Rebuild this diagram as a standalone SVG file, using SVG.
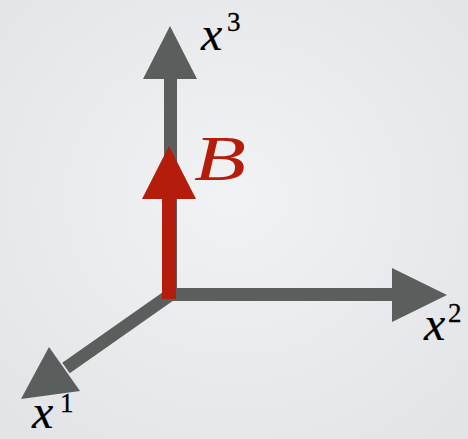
<svg xmlns="http://www.w3.org/2000/svg" width="468" height="439" viewBox="0 0 468 439">
<defs>
<radialGradient id="bg" cx="50%" cy="45%" r="75%">
<stop offset="0" stop-color="#f1f2f4"/>
<stop offset="1" stop-color="#e1e3e6"/>
</radialGradient>
<style>
.ax{fill:#5a5e5d}
.bv{fill:#b41c0b}
.lbl{font-family:"Liberation Serif","Times New Roman",serif;font-style:italic;fill:#000;stroke:#000;stroke-width:0.2}
.sup{font-family:"Liberation Serif","Times New Roman",serif;fill:#000;stroke:#000;stroke-width:0.3}
</style>
</defs>
<rect width="468" height="439" fill="url(#bg)"/>
<g id="connectors">
<g id="axis-x3">
<rect class="ax" x="164" y="78" width="13" height="223"/>
<polygon class="ax" points="170,26 143,79 197,79"/>
</g>
<g id="axis-x2">
<rect class="ax" x="163" y="288" width="230" height="13"/>
<polygon class="ax" points="447,295 392,268 392,322"/>
</g>
<g id="axis-x1">
<line x1="170" y1="295" x2="66" y2="368" stroke="#5a5e5d" stroke-width="13"/>
<polygon class="ax" points="21,399 49,347 80,391"/>
</g>
<g id="vector-B">
<rect class="bv" x="162" y="198" width="14" height="101"/>
<polygon class="bv" points="169,146 142,199 196,199"/>
</g>
</g>
<g id="label-x3">
<text class="lbl" x="201" y="50" font-size="48">x</text>
<text class="sup" x="227" y="31" font-size="27">3</text>
</g>
<g id="label-x2">
<text class="lbl" x="424" y="340" font-size="48">x</text>
<text class="sup" x="448" y="322" font-size="27">2</text>
</g>
<g id="label-x1">
<text class="lbl" x="32" y="428" font-size="48">x</text>
<text class="sup" x="60" y="412" font-size="27">1</text>
</g>
<g id="label-B">
<text x="194" y="180" font-size="64" font-family="Liberation Serif,Times New Roman,serif" font-style="italic" fill="#b41c0b" textLength="52" lengthAdjust="spacingAndGlyphs">B</text>
</g>
</svg>
